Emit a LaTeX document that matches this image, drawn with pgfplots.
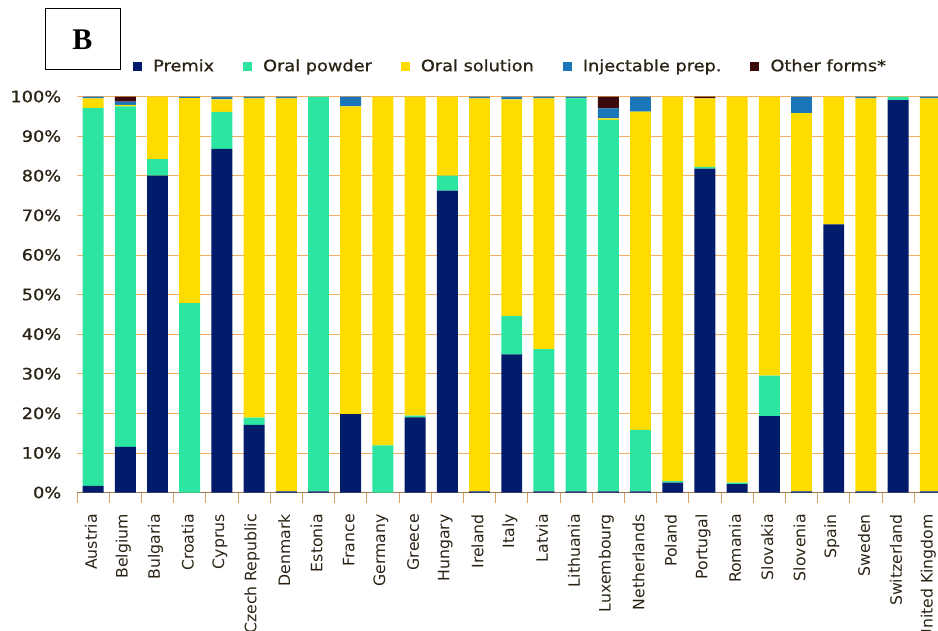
\documentclass[border=0pt]{standalone}
\usepackage{pgfplots}
\pgfplotsset{compat=1.18}
\usepackage{pgfplotstable}
\usepackage{fontspec}
\setmainfont{DejaVu Sans}
\newfontfamily\wide[FakeStretch=1.13,FakeBold=0.8]{DejaVu Sans}
\newfontfamily\plain{DejaVu Sans}
\newfontfamily\bserif{Liberation Serif}

\definecolor{premix}{HTML}{021C6C}
\definecolor{powder}{HTML}{2BE5A0}
\definecolor{solution}{HTML}{FFDC00}
\definecolor{inject}{HTML}{1A75B9}
\definecolor{other}{HTML}{3C0A0A}
\definecolor{txt}{HTML}{2A2214}
\definecolor{gridc}{HTML}{F4AE62}
\definecolor{axisc}{HTML}{9A7A50}
\definecolor{tickc}{HTML}{D9A060}

% premix, oral powder, oral solution, injectable, other (%)
\pgfplotstableread{
x  pre   pow   sol   inj  oth
0  1.7   95.4  2.4   0.5  0
1  11.5  86.0  0.4   0.8  1.3
2  80.0  4.2   15.8  0    0
3  0     47.8  51.8  0.4  0
4  86.8  9.3   3.2   0.7  0
5  17.1  1.8   80.6  0.5  0
6  0.3   0     99.2  0.5  0
7  0.3   99.7  0     0    0
8  19.8  0     77.7  2.5  0
9  0     11.9  88.1  0    0
10 19.0  0.4   80.6  0    0
11 76.2  3.8   20.0  0    0
12 0.3   0     99.2  0.5  0
13 34.9  9.7   54.7  0.7  0
14 0.3   35.9  63.3  0.5  0
15 0.3   99.2  0     0.5  0
16 0.3   93.8  0.4   2.5  3.0
17 0.3   15.5  80.4  3.8  0
18 2.5   0.4   97.1  0    0
19 81.8  0.4   17.3  0    0.5
20 2.1   0.4   97.5  0    0
21 19.3  10.2  70.5  0    0
22 0.3   0     95.5  4.2  0
23 67.7  0     32.3  0    0
24 0.3   0     99.2  0.5  0
25 99.1  0.9   0     0    0
26 0.3   0     99.2  0.5  0
}\datatable

\begin{document}
\begin{tikzpicture}
\useasboundingbox (-77pt,-137.5pt) rectangle (861pt,492.5pt);
\clip (-77pt,-137.5pt) rectangle (861pt,492.5pt);
\begin{axis}[
    at={(0,0)}, anchor=south west,
    scale only axis,
    width=861.7pt, height=396pt,
    ybar stacked,
    bar width=0.65,
    xmin=-0.5, xmax=26.26,
    ymin=0, ymax=100,
    axis x line=bottom,
    axis y line=left,
    y axis line style={draw=none},
    x axis line style={draw=axisc, line width=0.9pt, -},
    ytick={0,10,...,100},
    yticklabels={0\%,10\%,20\%,30\%,40\%,50\%,60\%,70\%,80\%,90\%,100\%},
    ytick style={draw=none},
    yticklabel style={font=\wide\fontsize{15.7}{18}\selectfont, text=txt, xshift=-8pt},
    ymajorgrids,
    grid style={draw=gridc, line width=0.8pt},
    xtick={0,...,26},
    xticklabels={Austria,Belgium,Bulgaria,Croatia,Cyprus,Czech Republic,Denmark,Estonia,France,Germany,Greece,Hungary,Ireland,Italy,Latvia,Lithuania,Luxembourg,Netherlands,Poland,Portugal,Romania,Slovakia,Slovenia,Spain,Sweden,Switzerland,United Kingdom},
    major x tick style={draw=none},
    minor xtick={-0.5,0.5,...,25.5},
    minor x tick style={draw=tickc, line width=0.8pt},
    tick align=outside,
    minor tick length=10pt,
    x tick label style={font=\plain\fontsize{15.7}{18}\selectfont, text=txt, rotate=90, anchor=east, xshift=-14pt, yshift=2pt},
    legend columns=-1,
    legend style={at={(rel axis cs:0.065,1.077)}, anchor=west, draw=none, fill=none,
        font=\wide\fontsize{15.7}{18}\selectfont, text=txt, inner xsep=0pt,
        /tikz/every odd column/.append style={column sep=9pt},
        /tikz/every even column/.append style={column sep=27pt}},
    legend image code/.code={\fill[#1] (0pt,-4.5pt) rectangle (9pt,4.5pt);},
]
\addplot[fill=premix, draw=none] table[x=x, y=pre] {\datatable};
\addlegendentry{Premix}
\addplot[fill=powder, draw=none] table[x=x, y=pow] {\datatable};
\addlegendentry{Oral powder}
\addplot[fill=solution, draw=none] table[x=x, y=sol] {\datatable};
\addlegendentry{Oral solution}
\addplot[fill=inject, draw=none] table[x=x, y=inj] {\datatable};
\addlegendentry{Injectable prep.}
\addplot[fill=other, draw=none] table[x=x, y=oth] {\datatable};
\addlegendentry{Other forms*}
\end{axis}
\draw[line width=0.9pt] (-32pt,423.5pt) rectangle (43pt,484.5pt);
\node[font=\bserif\bfseries\fontsize{30}{32}\selectfont] at (5.5pt,453pt) {B};
\end{tikzpicture}
\end{document}
